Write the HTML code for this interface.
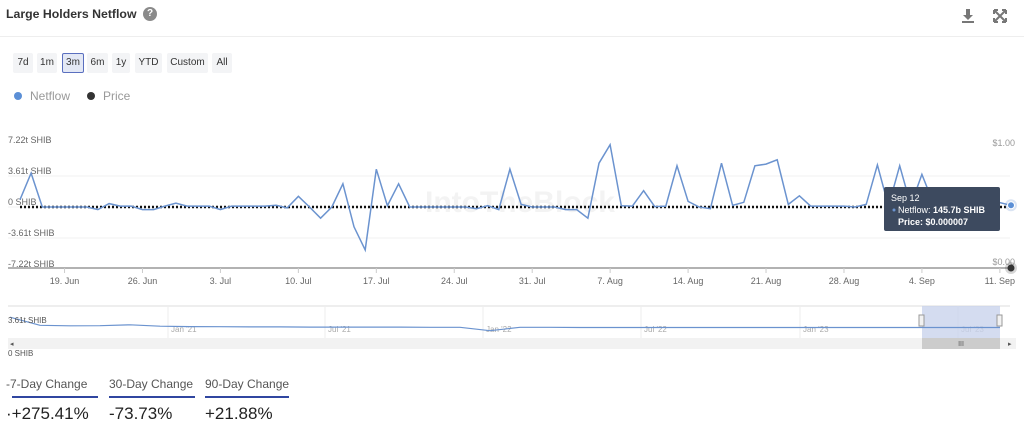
<!DOCTYPE html>
<html><head><meta charset="utf-8"><style>
body{margin:0;width:1024px;height:441px;background:#fff;font-family:"Liberation Sans",sans-serif;overflow:hidden;position:relative}
.abs{position:absolute}
.btn{position:absolute;top:53px;height:20px;line-height:20px;font-size:10px;color:#333;background:#f3f4f6;text-align:center;border-radius:2px}
.sel{background:#e3e8f5;border:1px solid #5a6fbf;line-height:18px;height:18px}
.stat{position:absolute;font-size:12px;color:#555;top:377px}
.val{position:absolute;font-size:17px;color:#222;top:404px}
.ul{position:absolute;top:396px;height:2px;background:#3046a0}
</style></head><body>
<div class="abs" style="left:6px;top:7px;font-size:12.3px;font-weight:bold;color:#333">Large Holders Netflow</div>
<div class="abs" style="left:143px;top:7px;width:14px;height:14px;border-radius:50%;background:#8a8a8a;color:#fff;font-size:10px;font-weight:bold;text-align:center;line-height:14px">?</div>
<svg class="abs" style="left:960px;top:6px" width="60" height="20">
<g fill="#777"><rect x="6" y="3" width="4" height="6"/><polygon points="3,9 13,9 8,14"/><rect x="2" y="15" width="12" height="2"/></g>
<g stroke="#777" stroke-width="2" fill="none"><path d="M34 4 L46 16 M46 4 L34 16 M34 4h4 M34 4v4 M46 4h-4 M46 4v4 M34 16h4 M34 16v-4 M46 16h-4 M46 16v-4"/></g>
</svg>
<div class="abs" style="left:0;top:36px;width:1024px;height:1px;background:#eee"></div>
<div class="btn" style="left:13px;width:20px">7d</div>
<div class="btn" style="left:37px;width:20px">1m</div>
<div class="btn sel" style="left:62px;width:20px">3m</div>
<div class="btn" style="left:87px;width:21px">6m</div>
<div class="btn" style="left:112px;width:18px">1y</div>
<div class="btn" style="left:135px;width:27px">YTD</div>
<div class="btn" style="left:167px;width:41px">Custom</div>
<div class="btn" style="left:212px;width:20px">All</div>
<div class="abs" style="left:14px;top:89px;font-size:12px;color:#999"><span style="display:inline-block;width:8px;height:8px;border-radius:50%;background:#5b8fd6;margin-right:8px"></span>Netflow</div>
<div class="abs" style="left:87px;top:89px;font-size:12px;color:#999"><span style="display:inline-block;width:8px;height:8px;border-radius:50%;background:#333;margin-right:8px"></span>Price</div>
<svg id="ch" class="abs" style="left:0;top:0" width="1024" height="360" font-family="Liberation Sans, sans-serif"></svg>
<div class="stat" style="left:6px">-7-Day Change</div>
<div class="stat" style="left:109px">30-Day Change</div>
<div class="stat" style="left:205px">90-Day Change</div>
<div class="ul" style="left:12px;width:86px"></div><div class="ul" style="left:109px;width:86px"></div><div class="ul" style="left:205px;width:84px"></div>
<div class="val" style="left:6px">·+275.41%</div>
<div class="val" style="left:109px">-73.73%</div>
<div class="val" style="left:205px">+21.88%</div>
<script>
const netflow=[0.85,3.95,0,0,0,0,0,-0.3,0.4,0.1,0.1,-0.3,-0.3,0.1,0.45,0.1,0.1,0.1,-0.3,0.1,0.1,0.1,0.1,0.2,-0.1,1.25,0,-1.3,0,2.7,-2.3,-5.0,4.4,0.15,2.7,0,0,0,0,0,0,-0.2,0.15,-0.3,4.4,0.3,0,0,0,-0.3,-0.3,-1.3,5.1,7.25,0.15,0.1,1.9,0.05,0.1,4.8,0.65,0,-0.2,5.1,0.2,0.55,4.8,5.0,5.5,0.3,1.3,0.1,0.1,0.1,0.1,0,0.3,4.9,0.1,4.8,0.2,3.8,0.5,0.4,0.3,0.3,0.3,0.3,0.5,0.2];
const yTicks=[7.22,3.61,0,-3.61,-7.22];
const yLabels=["7.22t SHIB","3.61t SHIB","0 SHIB","-3.61t SHIB","-7.22t SHIB"];
const xLabels=["19. Jun","26. Jun","3. Jul","10. Jul","17. Jul","24. Jul","31. Jul","7. Aug","14. Aug","21. Aug","28. Aug","4. Sep","11. Sep"];
const xLabelIdx=[4,11,18,25,32,39,46,53,60,67,74,81,88];
const navValues=[6,1.5,1.2,1.3,1.8,1,0.8,0.7,0.6,0.6,0.5,0.5,0.5,0.5,0.4,0.4,-1.5,0.4,0.4,0.3,0.3,0.3,0.3,0.3,0.3,0.3,0.3,0.3,0.3,0.3,0.3,0.3,0.3,0.3];
const navLabels=["Jan '21","Jul '21","Jan '22","Jul '22","Jan '23","Jul '23"];
const navLabelX=[0.16,0.317,0.475,0.633,0.792,0.95];
const svg=document.getElementById('ch');const NS='http://www.w3.org/2000/svg';
function mk(t,a,txt){const e=document.createElementNS(NS,t);for(const k in a)e.setAttribute(k,a[k]);if(txt!=null)e.textContent=txt;svg.appendChild(e);return e;}
const X=i=>20+i*(991/89);const Y=v=>207-v*(62/7.22);
yTicks.forEach((t,i)=>{const y=Y(t);if(i>0&&i<4)mk('line',{x1:8,x2:1010,y1:y,y2:y,stroke:'#f0f0f0'});
const e=mk('text',{x:8,y:y-2,'font-size':9,fill:'#666'},yLabels[i]);});
const wm=mk('text',{x:520,y:212,'font-size':30,'font-weight':'bold',fill:'#f3f3f3','text-anchor':'middle'},'IntoTheBlock');

mk('line',{x1:8,x2:1012,y1:268,y2:268,stroke:'#666','stroke-width':1});
xLabelIdx.forEach((d,i)=>{const x=X(d);mk('line',{x1:x,x2:x,y1:268,y2:273,stroke:'#ccc'});
const e=mk('text',{x:x,y:284,'font-size':9,fill:'#666','text-anchor':'middle'},xLabels[i]);});
const pl=mk('text',{x:1015,y:146,'font-size':9,fill:'#999','text-anchor':'end'},'$1.00');
const pl2=mk('text',{x:1015,y:265,'font-size':9,fill:'#999','text-anchor':'end'},'$0.00');
const z=mk('line',{x1:20,x2:1012,y1:Y(0),y2:Y(0),stroke:'#111','stroke-width':2.5,'stroke-dasharray':'2,2'});
const p=mk('path',{d:netflow.map((v,i)=>(i?'L':'M')+X(i).toFixed(1)+' '+Y(v).toFixed(1)).join(''),fill:'none',stroke:'#6b93cf','stroke-width':1.5});

const last=netflow.length-1;
mk('circle',{cx:X(last),cy:Y(netflow[last]),r:6,fill:'#6b93cf','fill-opacity':0.25});
const hp=mk('circle',{cx:X(last),cy:Y(netflow[last]),r:3.5,fill:'#5b8fd6',stroke:'#fff'});
mk('circle',{cx:X(last),cy:268,r:6,fill:'#333','fill-opacity':0.2});
const pp=mk('circle',{cx:X(last),cy:268,r:3.5,fill:'#333'});
const tg=mk('g',{});
mk('rect',{x:884,y:187,width:116,height:44,rx:2,fill:'#3d4a5f'});
mk('text',{x:891,y:201,'font-size':9,fill:'#fff'},'Sep 12');
mk('circle',{cx:894,cy:210,r:1.5,fill:'#6b93cf'});
mk('text',{x:898,y:213,'font-size':9,fill:'#fff'},'Netflow: ').appendChild(Object.assign(document.createElementNS(NS,'tspan'),{textContent:'145.7b SHIB'})).setAttribute('font-weight','bold');
mk('text',{x:898,y:225,'font-size':9,fill:'#fff','font-weight':'bold'},'Price: $0.000007');
const nav=mk('g',{});
mk('line',{x1:8,x2:1010,y1:306,y2:306,stroke:'#ddd'});
navLabelX.forEach((f,i)=>{const x=8+f*1000;mk('line',{x1:x,x2:x,y1:306,y2:338,stroke:'#eee'});mk('text',{x:x+3,y:332,'font-size':8,fill:'#aaa'},navLabels[i]);});
mk('rect',{x:922,y:306,width:78,height:32,fill:'#c9d3ec','fill-opacity':0.8});
const NX=i=>10+i*(990/(navValues.length-1));const NY=v=>328-v*1.8;
mk('path',{d:navValues.map((v,i)=>(i?'L':'M')+NX(i).toFixed(1)+' '+NY(v).toFixed(1)).join(''),fill:'none',stroke:'#6b93cf','stroke-width':1.2});
mk('text',{x:8,y:323,'font-size':8,fill:'#555'},'3.61t SHIB');
mk('rect',{x:919,y:315,width:5,height:11,fill:'#f2f2f2',stroke:'#999'});mk('rect',{x:997,y:315,width:5,height:11,fill:'#f2f2f2',stroke:'#999'});
mk('rect',{x:8,y:338,width:1008,height:11,fill:'#f2f2f2'});
mk('rect',{x:922,y:338,width:78,height:11,fill:'#ccc'});
mk('text',{x:961,y:346,'font-size':7,fill:'#555','text-anchor':'middle'},'III');
mk('text',{x:10,y:346,'font-size':7,fill:'#555'},'◂');mk('text',{x:1008,y:346,'font-size':7,fill:'#555'},'▸');
mk('text',{x:8,y:356,'font-size':8,fill:'#555'},'0 SHIB');
</script>
</body></html>
